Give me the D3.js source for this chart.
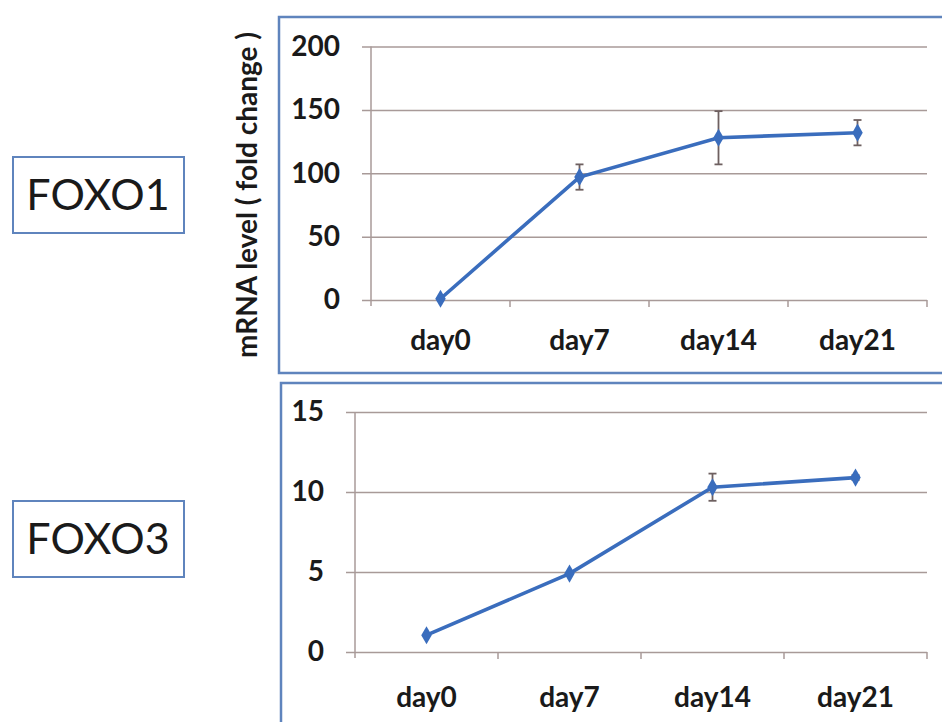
<!DOCTYPE html>
<html><head><meta charset="utf-8">
<script src="https://cdn.jsdelivr.net/npm/d3@7"></script>
<style>
html,body{margin:0;padding:0;background:#fff;}
svg{display:block;}
</style></head>
<body>
<svg id="c" width="942" height="722"></svg>
<script>
const categories = ["day0","day7","day14","day21"];
const foxo1Values = [1, 97, 128, 132];
const foxo1Errors = [0, 10, 21, 10];
const foxo1Ticks = [0, 50, 100, 150, 200];
const foxo3Values = [1.05, 4.9, 10.3, 10.9];
const foxo3Errors = [0, 0, 0.85, 0.15];
const foxo3Ticks = [0, 5, 10, 15];
const yTitle = "mRNA level ( fold change )";

const svg = d3.select("#c");
const lineColor = "#3a6dbd";
const gridColor = "#a89a98";
const boxColor = "#5f84bd";

function panel(cfg){
  const g = svg.append("g");
  g.append("path")
    .attr("d", cfg.frame)
    .attr("fill","none").attr("stroke", boxColor).attr("stroke-width",2.5);
  const x = d3.scaleBand().domain(categories).range([cfg.x0, cfg.x1]);
  const y = d3.scaleLinear().domain([0, cfg.ymax]).range([cfg.y0, cfg.y1]);
  const ya = d3.axisLeft(y).tickValues(cfg.ticks).tickSize(-(cfg.x1-cfg.x0)).tickFormat(d3.format("d"));
  const yg = g.append("g").attr("transform",`translate(${cfg.x0},0)`).call(ya);
  yg.select(".domain").remove();
  yg.selectAll(".tick line").attr("stroke", gridColor).attr("stroke-width",1.5).attr("x1", -9);
  yg.selectAll(".tick text").attr("font-family","Lato").attr("font-weight","bold").attr("font-size",28).attr("fill","#1a1a1a").attr("x",-31);
  g.append("line").attr("x1",cfg.x0).attr("x2",cfg.x0).attr("y1",cfg.y1).attr("y2",cfg.y0+6)
    .attr("stroke",gridColor).attr("stroke-width",1.5);
  const bounds = categories.map(c=>x(c)).concat([cfg.x1]).slice(1);
  g.selectAll(".xt").data(bounds).enter().append("line")
    .attr("x1",d=>d).attr("x2",d=>d).attr("y1",cfg.y0).attr("y2",cfg.y0+7)
    .attr("stroke",gridColor).attr("stroke-width",1.5);
  g.selectAll(".xl").data(categories).enter().append("text")
    .attr("x",d=>x(d)+x.bandwidth()/2).attr("y",cfg.y0+cfg.labelOff)
    .attr("text-anchor","middle").attr("font-family","Lato").attr("font-weight","bold")
    .attr("font-size",28).attr("fill","#1a1a1a").text(d=>d);
  const cx = d=>x(d)+x.bandwidth()/2;
  cfg.values.forEach((v,i)=>{
    const e = cfg.errors[i];
    if(!e) return;
    const c = cx(categories[i]);
    const eb = g.append("g").attr("stroke","#6e6060").attr("stroke-width",1.8);
    eb.append("line").attr("x1",c).attr("x2",c).attr("y1",y(v+e)).attr("y2",y(v-e));
    eb.append("line").attr("x1",c-4).attr("x2",c+4).attr("y1",y(v+e)).attr("y2",y(v+e));
    eb.append("line").attr("x1",c-4).attr("x2",c+4).attr("y1",y(v-e)).attr("y2",y(v-e));
  });
  const line = d3.line().x((d,i)=>cx(categories[i])).y(d=>y(d));
  g.append("path").datum(cfg.values).attr("d",line).attr("fill","none")
    .attr("stroke",lineColor).attr("stroke-width",3.6);
  g.selectAll(".pt").data(cfg.values).enter().append("path")
    .attr("d", d3.symbol(d3.symbolDiamond, 95))
    .attr("transform",(d,i)=>`translate(${cx(categories[i])},${y(d)})`)
    .attr("fill",lineColor);
  g.append("rect").attr("x",13).attr("y",cfg.boxY).attr("width",171).attr("height",76)
    .attr("fill","#fff").attr("stroke",boxColor).attr("stroke-width",2);
  g.append("text").attr("x",98).attr("y",cfg.boxY+38).attr("dy","0.36em")
    .attr("text-anchor","middle").attr("font-family","Lato").attr("font-size",43)
    .attr("fill","#1a1a1a").text(cfg.name);
}

panel({name:"FOXO1", values:foxo1Values, errors:foxo1Errors, ticks:foxo1Ticks, ymax:200,
  x0:371, x1:927, y0:300, y1:46.5, boxY:157, labelOff:50,
  frame:"M942,17 L279,17 L279,373 L942,373"});
panel({name:"FOXO3", values:foxo3Values, errors:foxo3Errors, ticks:foxo3Ticks, ymax:15,
  x0:355, x1:927, y0:652, y1:412, boxY:501, labelOff:55,
  frame:"M942,383 L281,383 L281,722"});

svg.append("text").attr("transform","translate(257,195) rotate(-90)")
  .attr("text-anchor","middle").attr("font-family","Lato").attr("font-weight","bold")
  .attr("font-size",28).attr("fill","#1a1a1a").text(yTitle);
</script>
</body></html>
